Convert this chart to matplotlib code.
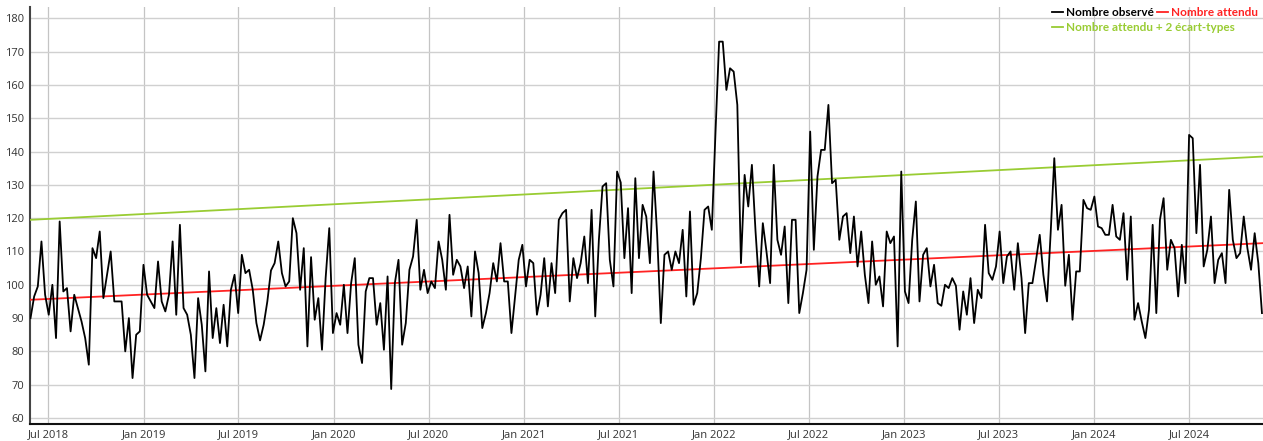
import matplotlib
matplotlib.use("Agg")
import matplotlib.pyplot as plt
import matplotlib.dates as mdates
import pandas as pd

# weekly observed counts, first week starting 2018-05-28
start_week = "2018-05-28"
observed = [
    90, 96.5, 99.5, 113, 97, 91, 100, 84, 119, 98,
    99, 86, 97, 93, 89, 84, 76, 111, 108, 116,
    96, 103, 110, 95, 95, 95, 80, 90, 72, 85,
    86, 106, 97, 95, 93, 107, 95, 92, 97, 113,
    91, 118, 93, 91, 85, 72, 96, 88, 74, 104,
    84, 93, 82.5, 94, 81.5, 98.5, 103, 91.5, 109, 103.5,
    104.5, 98.5, 88.5, 83.3, 88, 95, 104.3, 106.5, 113, 103.5,
    99.5, 101, 120, 115.5, 98.5, 111, 81.5, 108.3, 89.5, 96,
    80.5, 102, 117, 85.5, 91.5, 88, 100, 85.5, 100.5, 108,
    82, 76.5, 98, 102, 102, 88, 94.5, 80.5, 102.5, 68.7,
    100.5, 107.5, 82, 88.5, 104.5, 108.5, 119.5, 98.5, 104.5, 97.5,
    101, 99, 113, 107.5, 98.5, 121, 103, 107.5, 105.5, 99,
    105.5, 90.5, 110, 103.5, 87, 91.5, 97.5, 106.5, 101, 112.5,
    101, 101, 85.5, 96.5, 107.5, 112, 99.5, 107.5, 106.5, 91,
    97, 108, 93.5, 106.5, 97.5, 119.5, 121.5, 122.5, 95, 108,
    102, 106.5, 114.5, 100.5, 122.5, 90.5, 113.5, 129.5, 130.5, 107.5,
    99.5, 134, 130.7, 108, 123, 97.5, 132, 108, 124, 120.5,
    106.5, 134, 115, 88.5, 109, 110, 104.5, 110, 106.5, 116.5,
    96.5, 122, 94, 97.5, 108, 122.5, 123.5, 116.5, 145.5, 173,
    173, 158.5, 165, 164, 154, 106.5, 133, 123.5, 136, 116,
    99.5, 118.5, 110, 100.5, 136, 113.5, 109, 117.5, 94.5, 119.5,
    119.5, 91.5, 97.5, 104.5, 146, 110.5, 132.5, 140.5, 140.5, 154,
    130.5, 131.5, 113.5, 120.5, 121.5, 109.5, 120.5, 105.5, 116, 103,
    94.5, 113, 100, 102.5, 93.5, 116, 112.5, 114.5, 81.5, 134,
    98, 94.5, 113.5, 125, 95, 109, 111, 99.5, 106, 94.5,
    93.7, 100, 99, 102, 99.7, 86.5, 98, 91, 102, 88.5,
    98.5, 96, 118, 103.5, 101.5, 105.5, 116, 100.5, 108.5, 110,
    98.5, 112.5, 102, 85.5, 100.5, 100.5, 107.5, 115, 103, 95,
    115.5, 138, 116.5, 124, 99.7, 109, 89.5, 104, 104, 125.5,
    123, 122.5, 126.5, 117.5, 117, 115, 115, 124, 114.5, 113.5,
    121.5, 101.5, 120.5, 89.5, 94.5, 89, 84, 92.5, 118, 91.5,
    119.5, 126, 104.5, 113.5, 111, 96.5, 112, 100.5, 145, 144,
    115.5, 136, 105.5, 110.5, 120.5, 100.5, 107.5, 109.5, 100.5, 128.5,
    113.5, 108, 109.5, 120.5, 111, 104.5, 115.5, 106.5, 91.5,
]

# expected baseline and upper threshold (straight lines), start / end values
trend_dates = ["2018-05-28", "2024-11-20"]
expected = [95.5, 112.5]
threshold = [119.5, 138.5]

y_ticks = list(range(60, 181, 10))
x_limits = ["2018-05-27", "2024-11-20"]

labels = ["Nombre observé", "Nombre attendu", "Nombre attendu + 2 écart-types"]
colors = ["#000000", "#ff2222", "#99cc33"]

plt.rcParams['font.family'] = ['Open Sans', 'DejaVu Sans']

dates = pd.date_range(start_week, periods=len(observed), freq="7D")
tdates = pd.to_datetime(trend_dates)

fig = plt.figure(figsize=(12.63, 4.41), dpi=100)
ax = fig.add_axes([30 / 1263, 17 / 441, 1 - 30 / 1263, 417 / 441])

l_obs, = ax.plot(dates, observed, color=colors[0], lw=1.3, label=labels[0], zorder=4)
l_exp, = ax.plot(tdates, expected, color=colors[1], lw=1.3, label=labels[1], zorder=3)
l_thr, = ax.plot(tdates, threshold, color=colors[2], lw=1.3, label=labels[2], zorder=3)

ax.set_xlim(pd.to_datetime(x_limits[0]), pd.to_datetime(x_limits[1]))
ax.set_ylim(58.2, 183.4)
ax.set_yticks(y_ticks)

ax.xaxis.set_major_locator(mdates.MonthLocator(bymonth=[1, 7]))
ax.xaxis.set_major_formatter(mdates.DateFormatter("%b %Y"))

ax.grid(axis='y', color='#d0d0d0', lw=1)
ax.grid(axis='x', color='#c4c4c4', lw=0.9)
ax.set_axisbelow(True)

for side in ['top', 'right']:
    ax.spines[side].set_visible(False)
ax.spines['left'].set_color('#444444')
ax.spines['left'].set_linewidth(1.5)
ax.spines['bottom'].set_color('#111111')
ax.spines['bottom'].set_linewidth(1.5)

ax.tick_params(axis='both', length=0, labelsize=8, labelcolor='#333333')
ax.tick_params(axis='y', pad=4)
ax.tick_params(axis='x', pad=4)

leg_font = {'family': ['Lato', 'DejaVu Sans'], 'size': 8.5, 'weight': 'bold'}
leg1 = ax.legend(handles=[l_obs, l_exp], ncol=2, loc='upper left',
                 bbox_to_anchor=(1052 / 1263, 1 - 7 / 441), bbox_transform=fig.transFigure,
                 frameon=False, prop=leg_font, labelcolor='linecolor', borderpad=0,
                 handlelength=0.9, handletextpad=0.25, columnspacing=0.3, borderaxespad=0)
ax.add_artist(leg1)
ax.legend(handles=[l_thr], loc='upper left',
          bbox_to_anchor=(1052 / 1263, 1 - 22 / 441), bbox_transform=fig.transFigure,
          frameon=False, prop=leg_font, labelcolor='linecolor', borderpad=0,
          handlelength=0.9, handletextpad=0.25, borderaxespad=0)

fig.savefig("out.png", dpi=100)
